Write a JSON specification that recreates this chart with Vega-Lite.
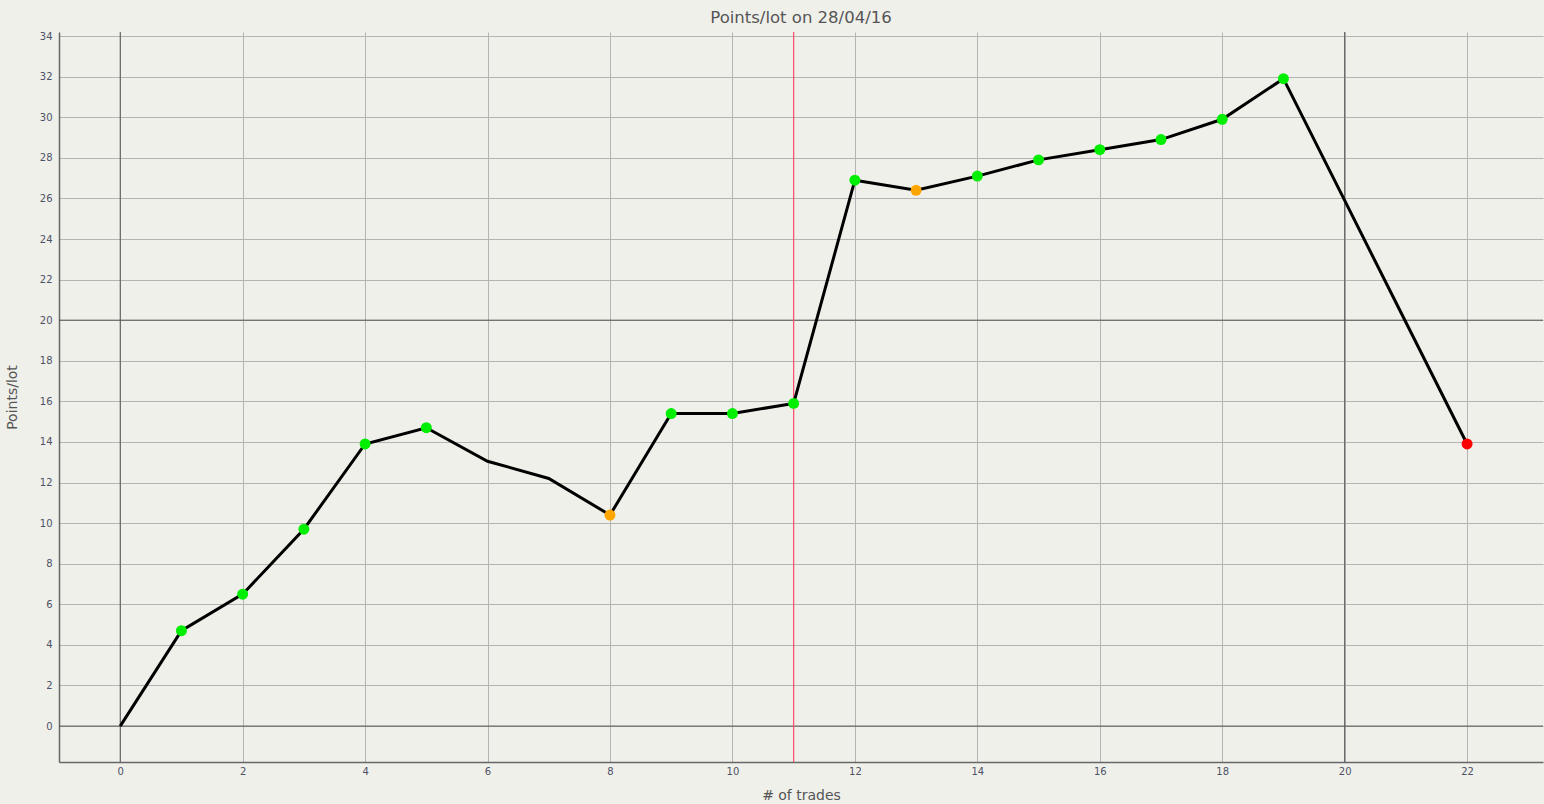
{
  "$schema": "https://vega.github.io/schema/vega-lite/v6.json",
  "autosize": {"type": "none"},
  "width": 1484,
  "height": 730,
  "padding": {"left": 59, "top": 32, "right": 1, "bottom": 42},
  "background": "#f0f0eb",
  "title": {
    "text": "Points/lot on 28/04/16",
    "fontSize": 16.5,
    "font": "DejaVu Sans",
    "fontWeight": "normal",
    "color": "#555555",
    "anchor": "middle",
    "offset": 5
  },
  "config": {
    "view": {"stroke": null, "fill": "#f0f0eb"},
    "axis": {
      "gridColor": "#b4b4b4",
      "gridWidth": 1,
      "gridOpacity": 1,
      "domainColor": "#666666",
      "domainWidth": 1.5,
      "ticks": false,
      "labelFont": "DejaVu Sans",
      "labelFontSize": 10,
      "labelColor": "#4e5266",
      "titleFont": "DejaVu Sans",
      "titleFontWeight": "normal",
      "titleFontSize": 14,
      "titleColor": "#555555"
    }
  },
  "datasets": {
    "trades": [
      {"trade": 0, "points": 0, "status": null},
      {"trade": 1, "points": 4.7, "status": "win"},
      {"trade": 2, "points": 6.5, "status": "win"},
      {"trade": 3, "points": 9.7, "status": "win"},
      {"trade": 4, "points": 13.9, "status": "win"},
      {"trade": 5, "points": 14.7, "status": "win"},
      {"trade": 6, "points": 13.05, "status": null},
      {"trade": 7, "points": 12.2, "status": null},
      {"trade": 8, "points": 10.4, "status": "draw"},
      {"trade": 9, "points": 15.4, "status": "win"},
      {"trade": 10, "points": 15.4, "status": "win"},
      {"trade": 11, "points": 15.9, "status": "win"},
      {"trade": 12, "points": 26.9, "status": "win"},
      {"trade": 13, "points": 26.4, "status": "draw"},
      {"trade": 14, "points": 27.1, "status": "win"},
      {"trade": 15, "points": 27.9, "status": "win"},
      {"trade": 16, "points": 28.4, "status": "win"},
      {"trade": 17, "points": 28.9, "status": "win"},
      {"trade": 18, "points": 29.9, "status": "win"},
      {"trade": 19, "points": 31.9, "status": "win"},
      {"trade": 20, "points": 25.9, "status": null},
      {"trade": 21, "points": 19.9, "status": null},
      {"trade": 22, "points": 13.9, "status": "loss"}
    ],
    "vlines": [{"x": 0}, {"x": 20}],
    "hlines": [{"y": 0}, {"y": 20}],
    "marker": [{"x": 11}]
  },
  "layer": [
    {
      "data": {"name": "vlines"},
      "mark": {"type": "rule", "color": "#555555", "strokeWidth": 1},
      "encoding": {
        "x": {
          "field": "x", "type": "quantitative",
          "scale": {"domain": [-1, 23.24], "nice": false, "zero": false},
          "axis": {"values": [0, 2, 4, 6, 8, 10, 12, 14, 16, 18, 20, 22], "format": "d", "title": "# of trades", "labelPadding": 4, "titlePadding": 12, "labelFlush": false}
        }
      }
    },
    {
      "data": {"name": "hlines"},
      "mark": {"type": "rule", "color": "#555555", "strokeWidth": 1},
      "encoding": {
        "y": {
          "field": "y", "type": "quantitative",
          "scale": {"domain": [-1.77, 34.2], "nice": false, "zero": false},
          "axis": {"values": [0, 2, 4, 6, 8, 10, 12, 14, 16, 18, 20, 22, 24, 26, 28, 30, 32, 34], "format": "d", "title": "Points/lot", "labelPadding": 7, "titlePadding": 20, "labelFlush": false}
        }
      }
    },
    {
      "data": {"name": "marker"},
      "mark": {"type": "rule", "color": "#ff4a6a", "strokeWidth": 1.2},
      "encoding": {"x": {"field": "x", "type": "quantitative"}}
    },
    {
      "data": {"name": "trades"},
      "mark": {"type": "line", "color": "#000000", "strokeWidth": 3},
      "encoding": {
        "x": {"field": "trade", "type": "quantitative"},
        "y": {"field": "points", "type": "quantitative"}
      }
    },
    {
      "data": {"name": "trades"},
      "transform": [{"filter": "datum.status != null"}],
      "mark": {"type": "point", "filled": true, "opacity": 1, "size": 120},
      "encoding": {
        "x": {"field": "trade", "type": "quantitative"},
        "y": {"field": "points", "type": "quantitative"},
        "color": {
          "field": "status", "type": "nominal",
          "scale": {"domain": ["win", "draw", "loss"], "range": ["#00ee00", "#ffa500", "#ff0000"]},
          "legend": null
        }
      }
    }
  ]
}
